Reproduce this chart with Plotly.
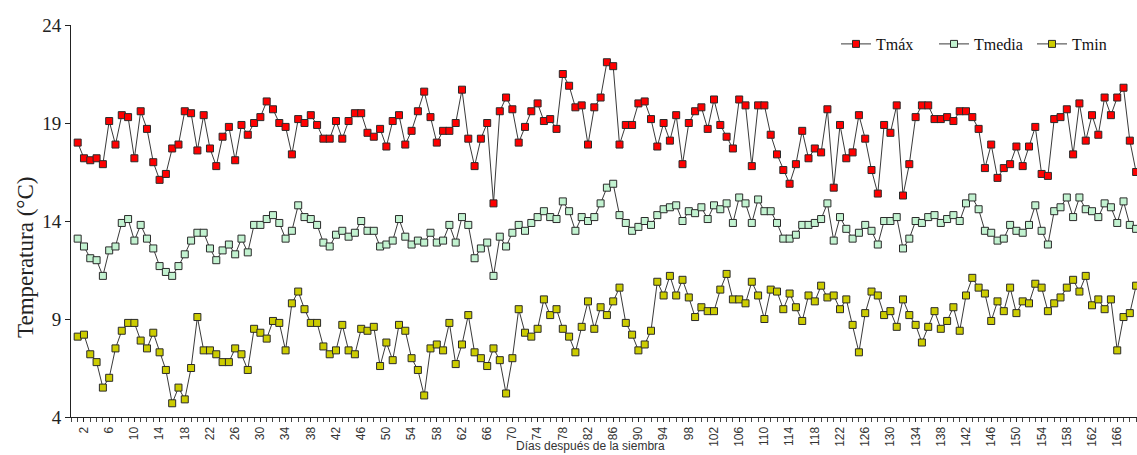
import plotly.graph_objects as go

# Días después de la siembra (1..169)
dias = list(range(1, 170))

tmax = [
    18.0, 17.2, 17.1, 17.2, 16.9, 19.1, 17.9, 19.4, 19.3, 17.2,
    19.6, 18.7, 17.0, 16.1, 16.4, 17.7, 17.9, 19.6, 19.5, 17.6,
    19.4, 17.7, 16.8, 18.3, 18.8, 17.1, 18.9, 18.4, 19.0, 19.3,
    20.1, 19.7, 19.0, 18.8, 17.4, 19.2, 19.0, 19.4, 18.9, 18.2,
    18.2, 19.1, 18.2, 19.1, 19.5, 19.5, 18.5, 18.3, 18.7, 17.8,
    19.1, 19.4, 17.9, 18.6, 19.6, 20.6, 19.3, 18.0, 18.6, 18.6,
    19.0, 20.7, 18.2, 16.8, 18.2, 19.0, 14.9, 19.6, 20.3, 19.7,
    18.0, 18.8, 19.6, 20.0, 19.1, 19.2, 18.7, 21.5, 20.9, 19.8,
    19.9, 17.9, 19.8, 20.3, 22.1, 21.9, 17.9, 18.9, 18.9, 20.0,
    20.1, 19.2, 17.8, 19.0, 18.1, 19.4, 16.9, 19.0, 19.6, 19.8,
    18.7, 20.2, 18.9, 18.3, 17.7, 20.2, 19.9, 16.8, 19.9, 19.9,
    18.4, 17.4, 16.6, 15.9, 16.9, 18.6, 17.2, 17.7, 17.5, 19.7,
    15.7, 18.9, 17.2, 17.5, 19.4, 18.2, 16.6, 15.4, 18.9, 18.5,
    19.9, 15.3, 16.9, 19.3, 19.9, 19.9, 19.2, 19.2, 19.3, 19.1,
    19.6, 19.6, 19.3, 18.7, 16.7, 17.9, 16.2, 16.7, 16.9, 17.8,
    16.8, 17.8, 18.8, 16.4, 16.3, 19.2, 19.3, 19.7, 17.4, 20.0,
    18.1, 19.4, 18.4, 20.3, 19.4, 20.3, 20.8, 18.1, 16.5,
]

tmedia = [
    13.1, 12.7, 12.1, 12.0, 11.2, 12.5, 12.7, 13.9, 14.1, 13.0,
    13.8, 13.1, 12.6, 11.7, 11.4, 11.2, 11.7, 12.3, 13.0, 13.4,
    13.4, 12.6, 12.0, 12.5, 12.8, 12.3, 13.1, 12.4, 13.8, 13.8,
    14.1, 14.3, 13.9, 13.1, 13.5, 14.8, 14.2, 14.1, 13.8, 12.9,
    12.7, 13.3, 13.5, 13.2, 13.4, 14.0, 13.5, 13.5, 12.7, 12.8,
    13.0, 14.1, 13.2, 12.8, 13.0, 12.9, 13.4, 12.9, 13.0, 13.8,
    12.9, 14.2, 13.8, 12.1, 12.6, 12.9, 11.2, 13.2, 12.7, 13.4,
    13.8, 13.5, 13.9, 14.2, 14.5, 14.2, 14.1, 15.0, 14.5, 13.5,
    14.2, 14.0, 14.2, 14.9, 15.7, 15.9, 14.3, 13.9, 13.5, 13.7,
    14.0, 13.8, 14.3, 14.6, 14.7, 14.8, 14.0, 14.5, 14.4, 14.7,
    14.1, 14.8, 14.6, 14.9, 13.9, 15.2, 14.9, 13.9, 15.1, 14.5,
    14.5, 13.9, 13.1, 13.1, 13.3, 13.8, 13.8, 13.9, 14.1, 14.9,
    13.0, 14.2, 13.6, 13.1, 13.4, 13.8, 13.5, 12.8, 14.0, 14.0,
    14.2, 12.6, 13.1, 14.0, 13.9, 14.2, 14.3, 13.9, 14.1, 14.3,
    14.0, 14.9, 15.2, 14.6, 13.5, 13.4, 13.0, 13.1, 13.8, 13.5,
    13.4, 13.8, 14.8, 13.5, 12.8, 14.5, 14.7, 15.2, 14.2, 15.2,
    14.6, 14.5, 14.2, 14.9, 14.7, 13.9, 15.0, 13.8, 13.6,
]

tmin = [
    8.1, 8.2, 7.2, 6.8, 5.5, 6.0, 7.5, 8.4, 8.8, 8.8,
    7.9, 7.5, 8.3, 7.3, 6.4, 4.7, 5.5, 4.9, 6.5, 9.1,
    7.4, 7.4, 7.2, 6.8, 6.8, 7.5, 7.2, 6.4, 8.5, 8.3,
    8.0, 8.9, 8.8, 7.4, 9.8, 10.4, 9.5, 8.8, 8.8, 7.6,
    7.2, 7.4, 8.7, 7.4, 7.2, 8.5, 8.4, 8.6, 6.6, 7.8,
    6.9, 8.7, 8.4, 7.0, 6.4, 5.1, 7.5, 7.7, 7.4, 8.8,
    6.7, 7.7, 9.2, 7.3, 7.0, 6.6, 7.5, 6.9, 5.2, 7.0,
    9.5, 8.3, 8.1, 8.5, 10.0, 9.2, 9.5, 8.5, 8.1, 7.3,
    8.6, 9.9, 8.5, 9.6, 9.2, 9.9, 10.6, 8.8, 8.2, 7.4,
    7.7, 8.4, 10.9, 10.2, 11.2, 10.2, 11.0, 10.1, 9.1, 9.6,
    9.4, 9.4, 10.5, 11.3, 10.0, 10.0, 9.8, 10.9, 10.2, 9.0,
    10.5, 10.4, 9.5, 10.3, 9.6, 8.9, 10.2, 9.9, 10.7, 10.1,
    10.2, 9.5, 10.0, 8.7, 7.3, 9.3, 10.4, 10.2, 9.2, 9.4,
    8.6, 10.0, 9.2, 8.7, 7.8, 8.6, 9.4, 8.5, 8.9, 9.6,
    8.4, 10.2, 11.1, 10.6, 10.3, 8.9, 9.9, 9.4, 10.6, 9.3,
    9.9, 9.8, 10.8, 10.6, 9.4, 9.8, 10.1, 10.6, 11.0, 10.4,
    11.2, 9.7, 10.0, 9.5, 10.0, 7.4, 9.1, 9.3, 10.7,
]

series = [
    ("Tmáx", tmax, "#FF0000"),
    ("Tmedia", tmedia, "#C2F2D0"),
    ("Tmin", tmin, "#CCCC00"),
]

fig = go.Figure()
for name, vals, color in series:
    fig.add_trace(go.Scatter(
        x=dias, y=vals, name=name, mode="lines+markers",
        line=dict(color="#3a3a3a", width=1),
        marker=dict(symbol="square", size=7, color=color,
                    line=dict(color="#2a2a2a", width=1)),
        cliponaxis=False,
    ))

W, H = 1137, 455
ML, MR, MT, MB = 71, 0, 25, 38
PW, PH = W - ML - MR, H - MT - MB

fig.update_layout(
    width=W, height=H,
    margin=dict(l=ML, r=MR, t=MT, b=MB, pad=0, autoexpand=False),
    paper_bgcolor="white", plot_bgcolor="white",
    showlegend=True,
    legend=dict(
        orientation="h", xref="paper", yref="paper",
        x=(836 - ML) / PW, y=(H - MB - 44) / PH,
        xanchor="left", yanchor="middle",
        font=dict(family="Liberation Serif", size=16, color="#111"),
        entrywidth=53, entrywidthmode="pixels",
        bgcolor="rgba(0,0,0,0)", traceorder="normal",
    ),
    xaxis=dict(
        range=[-0.06, 169.14], showgrid=False, zeroline=False,
        showline=True, linecolor="#222", linewidth=1,
        tickmode="linear", tick0=2, dtick=4,
        ticks="outside", ticklen=4, tickcolor="#222", tickwidth=1,
        tickangle=-90,
        tickfont=dict(family="Liberation Sans", size=12, color="#333"),
        minor=dict(tickmode="linear", tick0=1, dtick=1, ticks="outside",
                   ticklen=4, tickcolor="#444", tickwidth=1, showgrid=False),
    ),
    yaxis=dict(
        range=[4, 24], showgrid=False, zeroline=False,
        showline=True, linecolor="#222", linewidth=1,
        tickmode="array", tickvals=[4, 9, 14, 19, 24],
        ticks="outside", ticklen=5, tickcolor="#222",
        tickfont=dict(family="Liberation Serif", size=19, color="#222"),
    ),
    annotations=[
        dict(text="Temperatura (°C)", textangle=-90,
             xref="paper", yref="paper", x=(25 - ML) / PW, y=(H - MB - 258) / PH,
             xanchor="center", yanchor="middle", showarrow=False,
             font=dict(family="Liberation Serif", size=23, color="#222")),
        dict(text="Días después de la siembra",
             xref="paper", yref="paper", x=(590 - ML) / PW,
             y=-(446 - (H - MB)) / PH,
             xanchor="center", yanchor="middle", showarrow=False,
             font=dict(family="Liberation Sans", size=12, color="#333")),
    ],
)

fig.write_html("out.html")
